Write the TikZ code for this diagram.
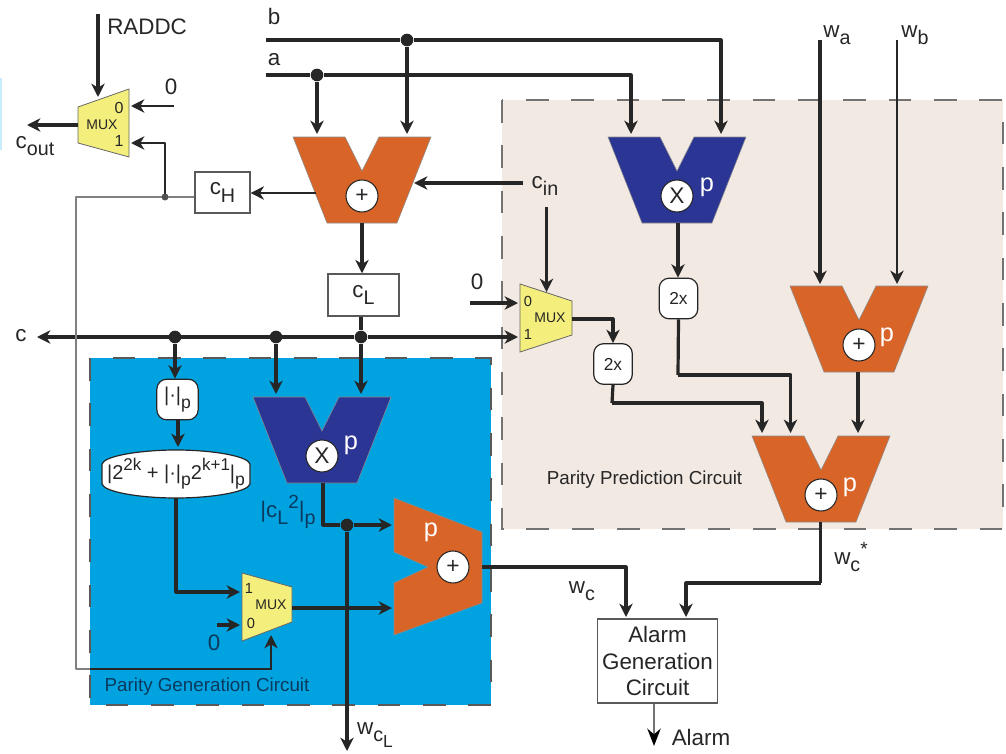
\documentclass[tikz,border=0pt]{standalone}
\usepackage{fontspec}
\setmainfont{Liberation Sans}
\usetikzlibrary{arrows.meta,calc}
\definecolor{orangeblk}{HTML}{D86427}
\definecolor{navyblk}{HTML}{2B3594}
\definecolor{muxyel}{HTML}{F4EE7C}
\definecolor{pgcblue}{HTML}{00A3E0}
\definecolor{ppcbeige}{HTML}{F3E9E3}
\definecolor{inkdark}{HTML}{262626}
\definecolor{inkblue}{HTML}{0B3A5E}
\newcommand\fs[1]{\fontsize{#1}{#1}\selectfont}
\newcommand\dn[1]{\raisebox{-.32em}{\scalebox{.88}{#1}}}
\newcommand\up[1]{\raisebox{.42em}{\scalebox{.85}{#1}}}
\tikzset{
  wire/.style={draw=inkdark,line width=2.4pt,line join=round,-{Stealth[length=10pt,width=10pt,inset=3pt]}},
  plainwire/.style={draw=inkdark,line width=2.4pt,line join=round},
  thinwire/.style={draw=inkdark,line width=1.6pt,line join=round,-{Stealth[length=10pt,width=10pt,inset=3pt]}},
  graywire/.style={draw=black!50,line width=1.6pt,line join=round},
  dot/.style={circle,fill=inkdark,inner sep=0pt,minimum size=9.5pt},
  smalldot/.style={circle,fill=inkdark!80,inner sep=0pt,minimum size=5pt},
  lbl/.style={inner sep=0pt,text=inkdark,font=\fs{16.8}},
  bluelbl/.style={lbl,text=inkblue},
  muxlbl/.style={inner sep=0pt,text=inkdark,font=\fs{10.5}},
  opcircle/.style={circle,draw=inkdark,line width=.8pt,fill=white,minimum size=24pt,inner sep=0pt,font=\fs{17},text=inkdark},
  plbl/.style={inner sep=0pt,text=white,font=\fs{19}},
  regbox/.style={draw=black!65,line width=1.1pt,fill=white,inner sep=0pt,text=inkdark,font=\fs{16.8}},
  tagbox/.style={draw=inkdark,line width=.9pt,fill=white,rounded corners=7.5pt,inner sep=0pt,minimum width=29pt,minimum height=30.5pt,text=inkdark,font=\fs{13}},
  regionpgc/.style={fill=pgcblue,draw=black!65,line width=1.4pt,dash pattern=on 17pt off 17pt},
  regionppc/.style={fill=ppcbeige,draw=black!55,line width=1.4pt,dash pattern=on 17pt off 17pt},
  muxshape/.style={fill=muxyel,draw=black!60,line width=.6pt},
}
% name, notch x, notch y, colour, symbol
\newcommand\vblock[5]{%
  \fill[#4,draw=black!45,line width=.4pt] (#2-69,#3) -- (#2-17,#3) -- (#2,#3+34) -- (#2+17,#3) -- (#2+69,#3) -- (#2+35,#3+86) -- (#2-35,#3+86) -- cycle;
  \node[opcircle] (#1) at (#2,#3+59) {#5};
}
\begin{document}
\begin{tikzpicture}[x=0.75pt,y=-0.75pt]
\useasboundingbox (0,0) rectangle (1006,753);
\fill[cyan!22] (0,78) rectangle (2,150);
% regions
\path[regionppc] (502,100) rectangle (1003,529);
\path[regionpgc] (90,358) rectangle (491,705);
% function blocks
\vblock{addtop}{362}{137}{orangeblk}{+}
\vblock{multab}{677}{137}{navyblk}{X}
\vblock{addw}{859}{286}{orangeblk}{+}
\vblock{addpred}{821}{436}{orangeblk}{+}
\vblock{multsq}{322}{397}{navyblk}{X}
\fill[orangeblk,draw=black!45,line width=.4pt] (394,498) -- (482,532) -- (482,603) -- (394,635) -- (394,583) -- (428,567) -- (394,552) -- cycle;
\node[opcircle] (addgen) at (453,567) {+};
\node[plbl] at (707,187) {p};
\node[plbl] at (887,337) {p};
\node[plbl] at (850,487) {p};
\node[plbl] at (351,445) {p};
\node[plbl] at (431,532) {p};
% muxes
\draw[muxshape] (78,107) -- (129,89) -- (129,157) -- (78,143) -- cycle;
\node[muxlbl] (muxtop) at (102,125) {MUX};
\node[inner sep=0pt,font=\fs{12},text=inkdark] at (119,108) {0};
\node[inner sep=0pt,font=\fs{12},text=inkdark] at (119,141) {1};
\draw[muxshape] (520,284) -- (572,301) -- (572,335) -- (520,352) -- cycle;
\node[muxlbl] (muxpred) at (550,318) {MUX};
\node[inner sep=0pt,font=\fs{11},text=inkdark] at (528,301) {0};
\node[inner sep=0pt,font=\fs{11},text=inkdark] at (528,334) {1};
\draw[muxshape] (242,573) -- (292,587) -- (292,622) -- (242,641) -- cycle;
\node[muxlbl] (muxgen) at (271,605) {MUX};
\node[inner sep=0pt,font=\fs{11},text=inkdark] at (249,588) {1};
\node[inner sep=0pt,font=\fs{11},text=inkdark] at (251,623) {0};
% boxes
\node[regbox,minimum width=41pt,minimum height=31pt] (cH) at (222.5,192.5) {c\dn{H}};
\node[regbox,minimum width=53pt,minimum height=31.5pt] (cL) at (363.5,295) {c\dn{L}};
\node[regbox,minimum width=90pt,minimum height=63pt,align=center,font=\fontsize{16.8}{20.2}\selectfont] (alarm) at (657.5,661) {Alarm\\Generation\\Circuit};
\node[tagbox] (twoa) at (678.5,298.5) {2x};
\node[tagbox] (twob) at (613,364) {2x};
\node[tagbox,font=\fs{15},minimum width=31pt] (modp) at (177.5,399.5) {|·|\dn{p}};
\fill[white,draw=inkdark,line width=.9pt] (102,464) .. controls (104,456) and (140,450) .. (176,450) .. controls (212,450) and (248,456) .. (250,464) -- (250,484) .. controls (248,492) and (212,498) .. (176,498) .. controls (140,498) and (104,492) .. (102,484) -- cycle;
\node[inner sep=0pt,text=inkdark,font=\fs{15},minimum width=111pt,minimum height=36pt] (resid) at (176,474) {|2\up{2k} + |·|\dn{p}2\up{k+1}|\dn{p}};
% junctions
\node[dot] (jb) at (407,40) {};
\node[dot] (ja) at (317,75) {};
\node[dot] (jc1) at (175,337) {};
\node[dot] (jc2) at (276,337) {};
\node[dot] (jc3) at (361,337) {};
\node[dot] (jsq) at (347,525) {};
\node[smalldot] (jh) at (165,197) {};
% free ends and pins
\coordinate (bstart) at (266,40);
\coordinate (astart) at (266,75);
\coordinate (raddc) at (98,14);
\coordinate (raddcpin) at (98,97);
\coordinate (zeroA) at (174,106);
\coordinate (zeroApin) at (131,106);
\coordinate (oneApin) at (131,143);
\coordinate (coutend) at (27,125);
\coordinate (muxAout) at (78,125);
\coordinate (addtopA) at (317,134);
\coordinate (addtopB) at (407,134);
\coordinate (addtopC) at (414,183);
\coordinate (addtopH) at (316,193);
\coordinate (cinright) at (523,183);
\coordinate (cindown) at (546.5,207);
\coordinate (cinpin) at (546.5,292);
\coordinate (multA) at (631,134);
\coordinate (multB) at (721,134);
\coordinate (waT) at (820,40);
\coordinate (waP) at (820,284);
\coordinate (wbT) at (897,40);
\coordinate (wbP) at (897,284);
\coordinate (cend) at (37,337);
\coordinate (cbusend) at (518,337);
\coordinate (zeroB) at (470,303);
\coordinate (zeroBpin) at (518,303);
\coordinate (muxBout) at (572,319);
\coordinate (predL) at (762,433);
\coordinate (predM) at (790.5,433);
\coordinate (predR) at (858,433);
\coordinate (addwout) at (858,372);
\coordinate (predout) at (820.5,522);
\coordinate (sqin1) at (276,394);
\coordinate (sqin2) at (361,394);
\coordinate (sqout) at (323,483);
\coordinate (genA) at (392,525);
\coordinate (genB) at (392,608);
\coordinate (muxCout) at (292,608);
\coordinate (muxC1) at (240,592);
\coordinate (muxC0) at (240,625);
\coordinate (zeroC) at (217,625);
\coordinate (muxCsel) at (271,635);
\coordinate (gencorner) at (76,669);
\coordinate (grayblue) at (90,669);
\coordinate (wcLend) at (347,751);
\coordinate (genout) at (482,567);
\coordinate (alarmA) at (626,617);
\coordinate (alarmB) at (686,617);
\coordinate (alarmend) at (654,746);
\coordinate (multout) at (678,223);
\coordinate (addtopbot) at (362,223);
\coordinate (tb1) at (612,403);
\coordinate (ta1) at (678,375);
\coordinate (po1) at (820.5,583);
\coordinate (residin) at (178,447);
\coordinate (modout) at (178,419);
% connectors
\draw[wire] (raddc) -- (raddcpin);
\draw[thinwire] (zeroA) -- (zeroApin);
\draw[thinwire] (jh.center) |- (oneApin);
\draw[wire] (muxAout) -- (coutend);
\draw[plainwire] (bstart) -- (jb);
\draw[wire] (jb) -| (multB);
\draw[wire] (jb) -- (addtopB);
\draw[plainwire] (astart) -- (ja);
\draw[wire] (ja) -| (multA);
\draw[wire] (ja) -- (addtopA);
\draw[thinwire] (addtopH) -- (cH.east |- addtopH);
\draw[wire] (cinright) -- (addtopC);
\draw[thinwire] (cindown) -- (cinpin);
\draw[wire] (addtopbot) -- (cL.north -| addtopbot);
\draw[plainwire] (cL.south -| jc3) -- (jc3);
\draw[wire] (jc3) -- (cend);
\draw[wire] (jc3) -- (cbusend);
\draw[wire] (zeroB) -- (zeroBpin);
\draw[wire] (muxBout) -| (twob.north);
\draw[plainwire] (twob.south) -- (tb1);
\draw[wire] (tb1) -| (predL);
\draw[wire] (multout) -- (twoa.north -| multout);
\draw[plainwire] (twoa.south) -- (ta1);
\draw[wire] (ta1) -| (predM);
\draw[wire,line width=3pt] (waT) -- (waP);
\draw[thinwire,line width=2pt] (wbT) -- (wbP);
\draw[wire,line width=2.8pt] (addwout) -- (predR);
\draw[wire] (jc1) -- (modp.north -| jc1);
\draw[wire] (modout) -- (residin);
\draw[wire] (jc2) -- (sqin1);
\draw[wire] (jc3) -- (sqin2);
\draw[wire] (resid.south) |- (muxC1);
\draw[plainwire] (sqout) |- (jsq);
\draw[wire] (jsq) -- (genA);
\draw[wire] (jsq) -- (wcLend);
\draw[wire] (muxCout) -- (genB);
\draw[wire] (zeroC) -- (muxC0);
\draw[wire] (genout) -| (alarmA);
\draw[plainwire] (predout) -- (po1);
\draw[wire] (po1) -| (alarmB);
\draw[draw=black!55,line width=1.9pt,-{Stealth[length=13pt,width=10pt,color=black]}] (alarm.south -| alarmend) -- (alarmend);
% control line of the carry high part
\draw[graywire] (cH.west |- jh) -- (jh.center) -- (76,197) -- (gencorner) -- (grayblue);
\draw[draw=inkdark,line width=1.4pt,-{Stealth[length=10pt,width=10pt,inset=3pt]}] (grayblue) -| (muxCsel);
\node[smalldot] at (jh) {};
% labels
\node[lbl,anchor=west] at (107,27) {RADDC};
\node[lbl] at (171,87) {0};
\node[lbl] at (35,146) {c\dn{out}};
\node[lbl] at (274,16) {b};
\node[lbl] at (274,60) {a};
\node[lbl] at (545,186) {c\dn{in}};
\node[lbl] at (837,35) {w\dn{a}};
\node[lbl] at (915,35) {w\dn{b}};
\node[lbl] at (477,282) {0};
\node[lbl] at (21,336) {c};
\node[bluelbl] at (288,512) {|c\dn{L}\up{2}|\dn{p}};
\node[bluelbl] at (214,643) {0};
\node[lbl,font=\fs{14.1},text=inkblue] at (207,687) {Parity Generation Circuit};
\node[lbl,font=\fs{14.1}] at (644.5,480) {Parity Prediction Circuit};
\node[lbl] at (375,735) {w\dn{c\dn{L}}};
\node[lbl] at (582,591) {w\dn{c}};
\node[lbl] at (851,557) {w\dn{c}\up{*}};
\node[lbl] at (701,737) {Alarm};
\end{tikzpicture}
\end{document}
